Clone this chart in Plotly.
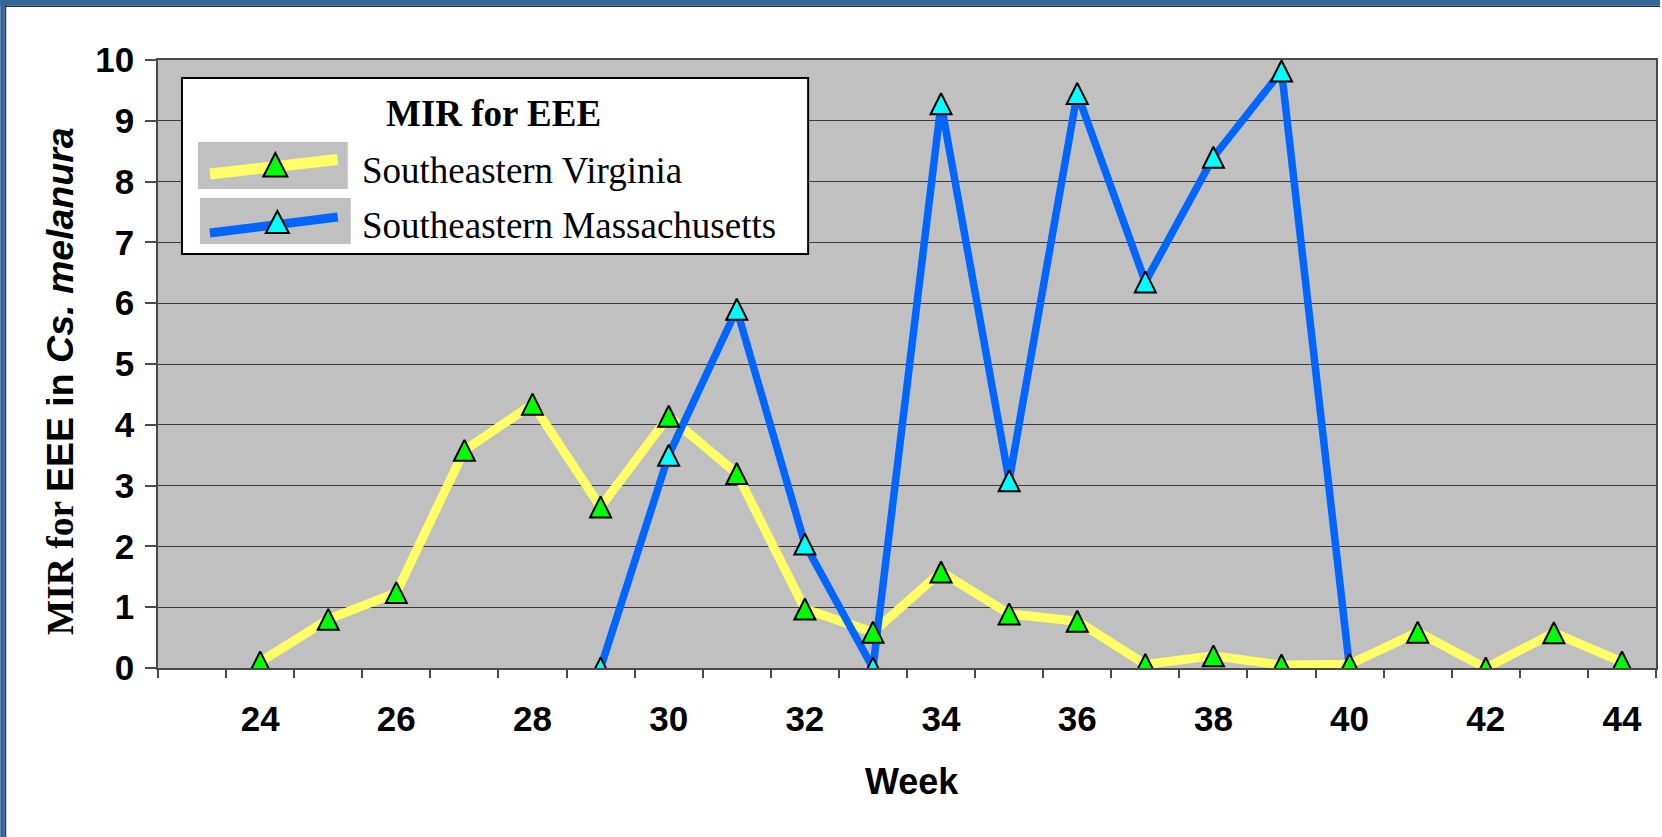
import plotly.graph_objects as go

# ---------------- data ----------------
weeks_va = list(range(24, 45))
mir_va = [0.10, 0.80, 1.24, 3.58, 4.34, 2.65, 4.14, 3.20, 0.97, 0.59, 1.58,
          0.89, 0.77, 0.06, 0.20, 0.05, 0.06, 0.59, 0.00, 0.58, 0.10]
weeks_ma = list(range(29, 41))
mir_ma = [0.00, 3.50, 5.90, 2.04, 0.00, 9.28, 3.08, 9.45, 6.35, 8.40, 9.82, 0.00]
x_tick_vals = list(range(24, 45, 2))
x_tick_text = [str(v) for v in x_tick_vals]
y_tick_vals = list(range(0, 11))
series_names = ["Southeastern Virginia", "Southeastern Massachusetts"]
legend_title = "MIR for EEE"

# ---------------- layout geometry ----------------
W, H = 1662, 837
L, R, T, B = 158, 4, 60, 169
PW, PH = W - L - R, H - T - B


def px(x):
    return (x - L) / PW


def py(y):
    return (H - B - y) / PH


SANS = "Liberation Sans"
SERIF = "Liberation Serif"
YEL, GREEN, BLUE, CYAN = "#FFFF66", "#00FF00", "#0066FF", "#00FFFF"

fig = go.Figure()

fig.add_trace(go.Scatter(x=weeks_va, y=mir_va, mode="lines",
                         line=dict(color=YEL, width=9), showlegend=False, hoverinfo="skip"))
fig.add_trace(go.Scatter(x=weeks_ma, y=mir_ma, mode="lines",
                         line=dict(color=BLUE, width=7.5), showlegend=False, hoverinfo="skip"))
tri = dict(symbol="arrow-down", angle=180, standoff=10.5, size=21,
           line=dict(color="black", width=2))
fig.add_trace(go.Scatter(x=weeks_ma, y=mir_ma, mode="markers", name=series_names[1],
                         marker=dict(color=CYAN, **tri), showlegend=False))
fig.add_trace(go.Scatter(x=weeks_va, y=mir_va, mode="markers", name=series_names[0],
                         marker=dict(color=GREEN, **tri), showlegend=False))

shapes = []
# outer blue frame (left and top)
shapes.append(dict(type="rect", xref="paper", yref="paper", x0=px(0), x1=px(4.5),
                   y0=py(H), y1=py(0), fillcolor="#34669A", line=dict(width=0), layer="above"))
shapes.append(dict(type="rect", xref="paper", yref="paper", x0=px(4.5), x1=px(6),
                   y0=py(H), y1=py(0), fillcolor="#1E3450", line=dict(width=0), layer="above"))
shapes.append(dict(type="rect", xref="paper", yref="paper", x0=px(0), x1=px(W),
                   y0=py(5.5), y1=py(0), fillcolor="#34669A", line=dict(width=0), layer="above"))
shapes.append(dict(type="rect", xref="paper", yref="paper", x0=px(4.5), x1=px(W),
                   y0=py(7), y1=py(5.5), fillcolor="#1E3450", line=dict(width=0), layer="above"))

# legend box
shapes.append(dict(type="rect", xref="paper", yref="paper", x0=px(182), x1=px(809),
                   y0=py(254), y1=py(78), fillcolor="white",
                   line=dict(color="black", width=2), layer="above"))
# legend symbol backgrounds
shapes.append(dict(type="rect", xref="paper", yref="paper", x0=px(198), x1=px(348),
                   y0=py(189), y1=py(142), fillcolor="#C0C0C0", line=dict(width=0), layer="above"))
shapes.append(dict(type="rect", xref="paper", yref="paper", x0=px(200), x1=px(351),
                   y0=py(244), y1=py(198), fillcolor="#C0C0C0", line=dict(width=0), layer="above"))
# legend lines
shapes.append(dict(type="line", xref="paper", yref="paper", x0=px(210), y0=py(174),
                   x1=px(338), y1=py(159.5), line=dict(color=YEL, width=11), layer="above"))
shapes.append(dict(type="line", xref="paper", yref="paper", x0=px(210), y0=py(233),
                   x1=px(338), y1=py(217), line=dict(color=BLUE, width=9), layer="above"))


def tri_path(cx, top, bottom, half):
    return "M {:.5f},{:.5f} L {:.5f},{:.5f} L {:.5f},{:.5f} Z".format(
        px(cx), py(top), px(cx - half), py(bottom), px(cx + half), py(bottom))


shapes.append(dict(type="path", xref="paper", yref="paper", path=tri_path(275.5, 153, 176.5, 12),
                   fillcolor=GREEN, line=dict(color="black", width=2), layer="above"))
shapes.append(dict(type="path", xref="paper", yref="paper", path=tri_path(277.5, 211, 233, 11.5),
                   fillcolor=CYAN, line=dict(color="black", width=2), layer="above"))

annotations = [
    dict(text="<b>" + legend_title + "</b>", x=px(494), y=py(113), xref="paper", yref="paper",
         xanchor="center", yanchor="middle", showarrow=False,
         font=dict(family=SERIF, size=37, color="black")),
    dict(text=series_names[0], x=px(360), y=py(170), xref="paper", yref="paper",
         xanchor="left", yanchor="middle", showarrow=False,
         font=dict(family=SERIF, size=37, color="black")),
    dict(text=series_names[1], x=px(360), y=py(225), xref="paper", yref="paper",
         xanchor="left", yanchor="middle", showarrow=False,
         font=dict(family=SERIF, size=37, color="black")),
    dict(text="<b>Week</b>", x=px(913), y=py(781), xref="paper", yref="paper",
         xanchor="center", yanchor="middle", showarrow=False,
         font=dict(family=SANS, size=36, color="black")),
    dict(text="<b><span style='font-family:Liberation Serif'>MIR for </span>EEE in <i>Cs. melanura</i></b>",
         x=px(60), y=py(381), xref="paper", yref="paper", textangle=-90,
         xanchor="center", yanchor="middle", showarrow=False,
         font=dict(family=SANS, size=37.5, color="black")),
]

fig.update_layout(
    width=W, height=H,
    margin=dict(l=L, r=R, t=T, b=B, pad=0),
    paper_bgcolor="white", plot_bgcolor="#C0C0C0",
    showlegend=False,
    shapes=shapes, annotations=annotations,
    xaxis=dict(range=[22.5, 44.5], tickmode="array", tickvals=x_tick_vals, ticktext=x_tick_text,
               ticks="", showgrid=False, zeroline=False,
               showline=True, linecolor="#4a4a4a", linewidth=1.5, mirror=True,
               layer="below traces", ticklabelstandoff=19,
               tickfont=dict(family=SANS, size=35, color="black", weight="bold"),
               minor=dict(ticks="outside", tickmode="array",
                          tickvals=[w + 0.5 for w in range(22, 45)],
                          ticklen=8, tickwidth=1.5, tickcolor="#4a4a4a", showgrid=False)),
    yaxis=dict(range=[0, 10], tickmode="array", tickvals=y_tick_vals,
               ticks="outside", ticklen=11, tickwidth=1.5, tickcolor="#4a4a4a",
               showgrid=True, gridcolor="#3a3a3a", gridwidth=1.3, zeroline=False,
               showline=True, linecolor="#4a4a4a", linewidth=1.5, mirror=True,
               layer="below traces", ticklabelstandoff=4,
               tickfont=dict(family=SANS, size=35, color="black", weight="bold")),
)

fig.write_html("out.html", config={"displayModeBar": False},
               post_script="document.body.style.margin='0';document.body.style.padding='0';"
                           "document.body.style.overflow='hidden';"
                           "document.documentElement.style.overflow='hidden';")
